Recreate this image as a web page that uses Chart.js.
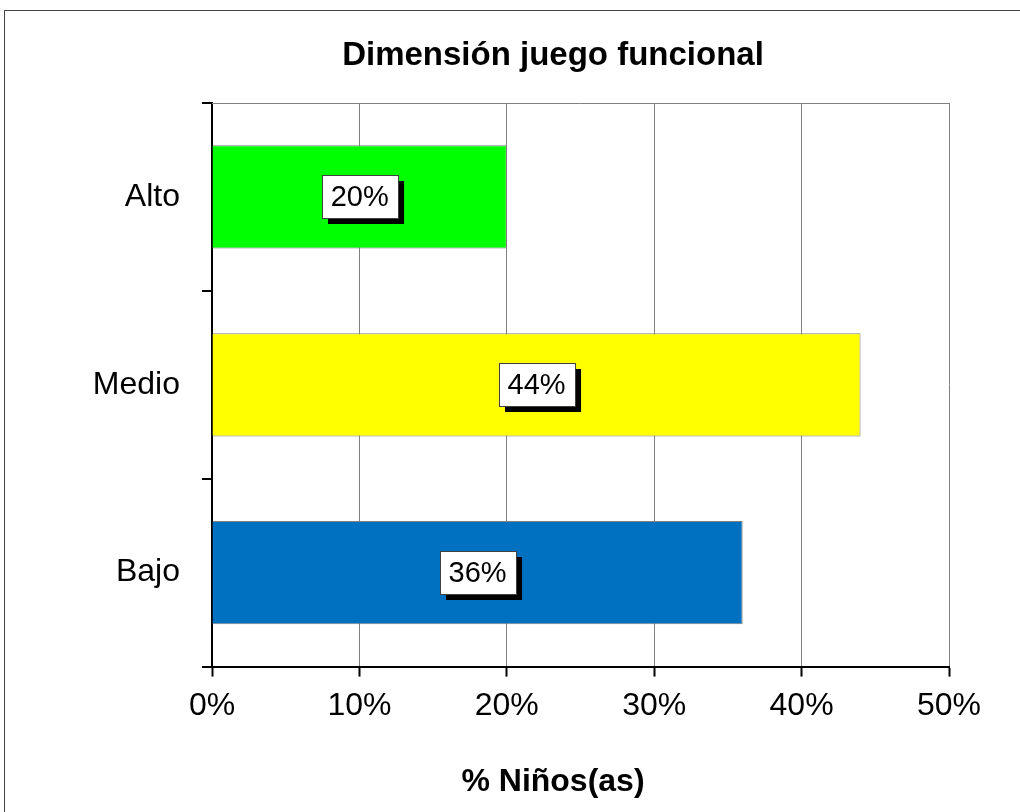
<!DOCTYPE html>
<html>
<head>
<meta charset="utf-8">
<script src="https://cdn.jsdelivr.net/npm/chart.js@4.4.1/dist/chart.umd.min.js"></script>
<style>
  html, body { margin: 0; padding: 0; background: #fff; }
  #wrap { width: 1020px; height: 812px; }
</style>
</head>
<body>
<div id="wrap"><canvas id="chart" width="1020" height="812"></canvas></div>
<script>
// datos del gráfico
const categorias = ['Alto', 'Medio', 'Bajo'];
const porcentajes = [20, 44, 36];
const colores = ['#00FF00', '#FFFF00', '#0070C0'];
const ticksX = [0, 10, 20, 30, 40, 50];

const FONT = "'Liberation Sans', Arial, sans-serif";

// marco exterior, línea superior del área y títulos centrados como en el original
const marco = {
  id: 'marco',
  afterLayout(chart) {
    chart.boxes.forEach(b => {
      if (b.options && typeof b.options.text === 'string') {
        b.left = 157;
        b.right = chart.chartArea.right;
        b.width = b.right - b.left;
      }
    });
  },
  beforeDraw(chart) {
    const ctx = chart.ctx;
    ctx.save();
    ctx.strokeStyle = '#444';
    ctx.lineWidth = 1;
    ctx.strokeRect(4.5, 10.5, 2000, 2000);
    ctx.restore();
  },
  beforeDatasetsDraw(chart) {
    const { ctx, chartArea } = chart;
    ctx.save();
    ctx.strokeStyle = '#808080';
    ctx.lineWidth = 1;
    ctx.beginPath();
    ctx.moveTo(chartArea.left, Math.round(chartArea.top) + 0.5);
    ctx.lineTo(chartArea.right, Math.round(chartArea.top) + 0.5);
    ctx.stroke();
    ctx.restore();
  }
};

// etiquetas de datos con caja blanca y sombra negra
const etiquetas = {
  id: 'etiquetas',
  afterDatasetsDraw(chart) {
    const ctx = chart.ctx;
    const meta = chart.getDatasetMeta(0);
    ctx.save();
    ctx.font = '29px ' + FONT;
    ctx.textAlign = 'center';
    ctx.textBaseline = 'middle';
    meta.data.forEach((bar, i) => {
      const txt = porcentajes[i] + '%';
      const cx = (bar.base + bar.x) / 2;
      const cy = bar.y;
      const w = ctx.measureText(txt).width + 18;
      const h = 43;
      const x0 = Math.round(cx - w / 2);
      const y0 = Math.round(cy - h / 2);
      ctx.fillStyle = '#000';
      ctx.fillRect(x0 + 6, y0 + 6, w, h);
      ctx.fillStyle = '#fff';
      ctx.fillRect(x0, y0, w, h);
      ctx.strokeStyle = '#404040';
      ctx.lineWidth = 1;
      ctx.strokeRect(x0 + 0.5, y0 + 0.5, w, h);
      ctx.fillStyle = '#000';
      ctx.fillText(txt, cx, cy + 1);
    });
    ctx.restore();
  }
};

new Chart(document.getElementById('chart'), {
  type: 'bar',
  data: {
    labels: categorias,
    datasets: [{
      data: porcentajes,
      backgroundColor: colores,
      borderColor: '#808080',
      borderWidth: 1,
      barPercentage: 0.55,
      categoryPercentage: 1
    }]
  },
  options: {
    indexAxis: 'y',
    responsive: false,
    animation: false,
    layout: {
      padding: { left: 86, right: 71, top: 10, bottom: 0 }
    },
    plugins: {
      legend: { display: false },
      tooltip: { enabled: false },
      title: {
        display: true,
        text: 'Dimensión juego funcional',
        color: '#000',
        font: { family: FONT, size: 33, weight: 'bold' },
        padding: { top: 26, bottom: 27.4 }
      },
      subtitle: {
        display: true,
        position: 'bottom',
        text: '% Niños(as)',
        color: '#000',
        font: { family: FONT, size: 32, weight: 'bold' },
        padding: { top: 36, bottom: 11 }
      }
    },
    scales: {
      x: {
        min: 0,
        max: 50,
        afterFit(scale) { scale.height = 60; },
        afterBuildTicks(scale) { scale.ticks = ticksX.map(v => ({ value: v })); },
        ticks: {
          color: '#000',
          font: { family: FONT, size: 32 },
          padding: 10,
          callback: v => v + '%'
        },
        grid: {
          color: '#808080',
          lineWidth: 1,
          tickColor: '#000',
          tickWidth: 2,
          tickLength: 10
        },
        border: { color: '#000', width: 2 }
      },
      y: {
        afterFit(scale) { scale.width = 126; },
        ticks: {
          color: '#000',
          font: { family: FONT, size: 32 },
          padding: 22
        },
        grid: {
          offset: true,
          drawOnChartArea: false,
          tickColor: '#000',
          lineWidth: 2,
          tickLength: 10
        },
        border: { color: '#000', width: 2 }
      }
    }
  },
  plugins: [marco, etiquetas]
});
</script>
</body>
</html>
